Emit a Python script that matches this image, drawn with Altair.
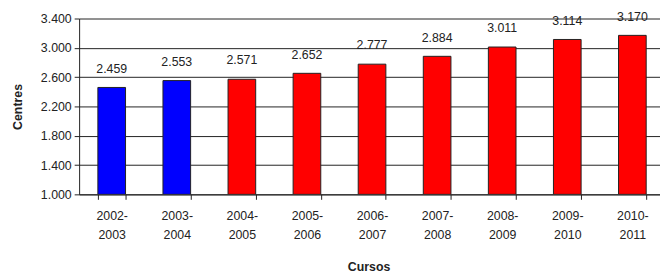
import altair as alt
import pandas as pd

cursos = ["2002-2003", "2003-2004", "2004-2005", "2005-2006", "2006-2007",
          "2007-2008", "2008-2009", "2009-2010", "2010-2011"]
centres = [2459, 2553, 2571, 2652, 2777, 2884, 3011, 3114, 3170]
grups = ["a", "a", "b", "b", "b", "b", "b", "b", "b"]
colors_domain = ["a", "b"]
colors_range = ["#0000FF", "#FF0000"]
y_ticks = [1000, 1400, 1800, 2200, 2600, 3000, 3400]

df = pd.DataFrame({"Cursos": cursos, "Centres": centres, "grup": grups})

x = alt.X("Cursos:N", sort=cursos, title="Cursos",
          scale=alt.Scale(paddingInner=0.575, paddingOuter=0.288),
          axis=alt.Axis(labelAngle=0, tickBand="extent", tickSize=5,
                        labelExpr="[slice(datum.label,0,5), slice(datum.label,5)]",
                        labelLineHeight=20, labelPadding=10, labelOverlap=False,
                        titlePadding=20, titleX=293))
y = alt.Y("Centres:Q", title="Centres",
          scale=alt.Scale(domain=[1000, 3400], nice=False, zero=False),
          axis=alt.Axis(values=y_ticks, labelOverlap=False,
                        labelExpr="replace(format(datum.value, ',.0f'), ',', '.')",
                        tickSize=5, labelPadding=3, titlePadding=16))

base = alt.Chart(df).encode(x=x, y=y).transform_calculate(
    lbl="replace(format(datum.Centres, ',.0f'), ',', '.')")

bars = base.mark_bar(stroke="#222222", strokeWidth=1, clip=True).encode(
    y2=alt.datum(1000),
    color=alt.Color("grup:N", scale=alt.Scale(domain=colors_domain, range=colors_range), legend=None),
)
text = base.mark_text(baseline="bottom", dy=-12, fontSize=12.5,
                      font="Liberation Sans", color="#222222").encode(
    text=alt.Text("lbl:N"),
)

chart = (bars + text).properties(
    width=593, height=178,
    autosize=alt.AutoSizeParams(type="none"),
    padding={"left": 72, "top": 9, "right": -5, "bottom": 82},
    background="white",
).configure_axis(
    labelFont="Liberation Sans", labelFontSize=12.5, labelColor="#222222",
    titleFont="Liberation Sans", titleFontSize=12.5, titleFontWeight="bold", titleColor="#222222",
    domainColor="#222222", tickColor="#222222", gridColor="#222222", gridOpacity=1,
).configure_axisX(grid=False).configure_axisY(grid=True).configure_view(stroke=None)

chart.save("out.html", embed_options={"renderer": "svg", "actions": False})
